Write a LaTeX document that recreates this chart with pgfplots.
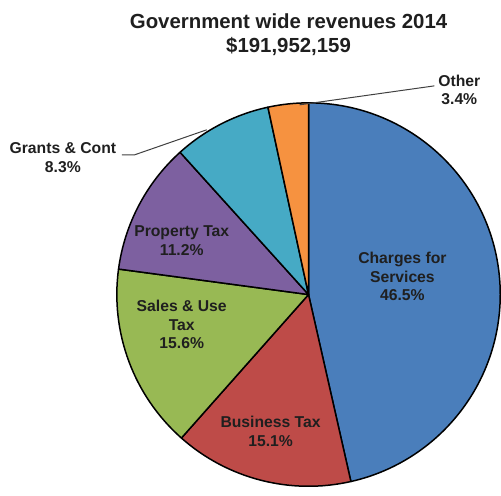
\documentclass[border=0pt]{standalone}
\usepackage{pgfplots}
\usepackage{pgfplotstable}
\pgfplotsset{compat=1.18}
\usepackage{fontspec}
\setmainfont{Liberation Sans}
\definecolor{c0}{HTML}{4A7EBB}
\definecolor{c1}{HTML}{BE4B48}
\definecolor{c2}{HTML}{98B954}
\definecolor{c3}{HTML}{7D60A0}
\definecolor{c4}{HTML}{46AAC5}
\definecolor{c5}{HTML}{F69240}
\pgfplotstableread{
value
46.5
15.1
15.6
11.2
8.3
3.4
}\revtable
\def\cx{309}\def\cy{196}\def\R{192}
\begin{document}
\begin{tikzpicture}
\def\mycum{0}
\pgfplotsforeachungrouped \i in {0,...,5}{%
  \pgfplotstablegetelem{\i}{value}\of\revtable
  \let\myval\pgfplotsretval
  \pgfmathsetmacro\angA{90-\mycum*3.5964}%
  \pgfmathsetmacro\angB{90-(\mycum+\myval)*3.5964}%
  \pgfmathsetmacro\ptx{\cx+\R*cos(\angA)}%
  \pgfmathsetmacro\pty{\cy+\R*sin(\angA)}%
  \expandafter\xdef\csname slice\i\endcsname{\noexpand\filldraw[fill=c\i,draw=black,line width=1.5bp,line join=round] (axis cs:\cx,\cy) -- (axis cs:\ptx,\pty) arc[start angle=\angA,end angle=\angB,radius=\R bp] -- cycle;}%
  \pgfmathsetmacro\mycum{\mycum+\myval}%
}
\begin{axis}[x=1bp,y=1bp,xmin=0,xmax=501,ymin=0,ymax=491,hide axis,clip=false]
\path (axis cs:0,0) rectangle (axis cs:501,491);
\csname slice0\endcsname
\csname slice1\endcsname
\csname slice2\endcsname
\csname slice3\endcsname
\csname slice4\endcsname
\csname slice5\endcsname
\draw[black!75,line width=1bp] (axis cs:300,386) -- (axis cs:435,405);
\draw[black!75,line width=1bp] (axis cs:207,361) -- (axis cs:135,336) -- (axis cs:122,336);
\begin{scope}[every node/.style={font=\bfseries\fontsize{15.8}{18.5}\selectfont,align=center,text=black!88,inner sep=0pt}]
\node at (axis cs:403,214) {Charges for\\Services\\46.5\%};
\node at (axis cs:271,59) {Business Tax\\15.1\%};
\node at (axis cs:182,166) {Sales \& Use\\Tax\\15.6\%};
\node at (axis cs:182,250) {Property Tax\\11.2\%};
\node at (axis cs:63,333) {Grants \& Cont\\8.3\%};
\node at (axis cs:460,401) {Other\\3.4\%};
\end{scope}
\node[font=\bfseries\fontsize{20.5}{24.5}\selectfont,align=center,text=black!88,inner sep=0pt] at (axis cs:289,456) {Government wide revenues 2014\\\$191,952,159};
\end{axis}
\end{tikzpicture}
\end{document}
